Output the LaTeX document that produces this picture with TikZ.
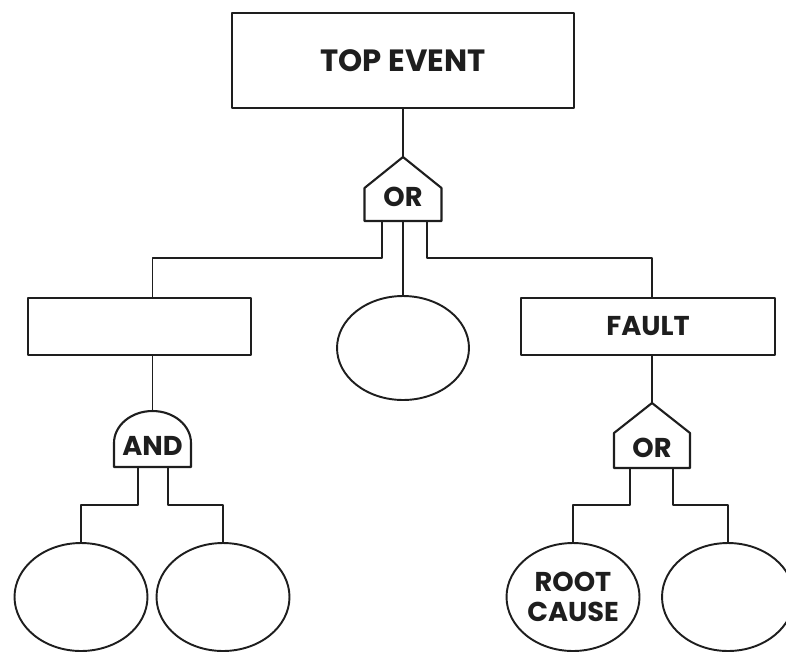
\documentclass[tikz,border=0pt]{standalone}
\usepackage{fontspec}
\setmainfont{Poppins}
\usetikzlibrary{shapes.geometric}

\definecolor{ink}{HTML}{1E1E1E}

\begin{document}
\begin{tikzpicture}[x=0.02cm, y=-0.02cm, line join=round, ink,
  box/.style={draw, line width=1.2pt, inner sep=0pt, font=\bfseries\fontsize{15.5}{17}\selectfont},
  oval/.style={draw, ellipse, line width=1.1pt, inner sep=0pt, align=center, font=\bfseries\fontsize{15.5}{17.5}\selectfont},
  gatetext/.style={inner sep=0pt, font=\bfseries\fontsize{15.5}{17}\selectfont},
  gate/.style={line width=1.2pt},
  wire/.style={line width=1pt}]
  \useasboundingbox (0,0) rectangle (786,652);
  \clip (0,0) rectangle (786,652);
  % top event
  \node[box, minimum width=6.84cm, minimum height=1.9cm, font=\bfseries\fontsize{17.5}{19}\selectfont]
    (top) at (403,60.5) {TOP EVENT};
  % or gate (top)
  \node[gatetext] (or1) at (403,197) {OR};
  \draw[gate] (or1.center) ++(-38.5,24) -- ++(0,-33) -- ++(38.5,-31) coordinate (or1top)
    -- ++(38.5,31) -- ++(0,33) -- cycle;
  \draw[wire] (top.south) -- (or1top);
  % second level
  \node[box, minimum width=4.46cm, minimum height=1.14cm] (left) at (139.5,326.5) {};
  \node[oval, minimum width=2.64cm, minimum height=2.08cm] (mid) at (403,348) {};
  \node[box, minimum width=5.08cm, minimum height=1.14cm] (fault) at (648,326.5) {FAULT};
  % and gate
  \node[gatetext] (and1) at (152.5,446) {AND};
  \draw[gate] (and1.center) ++(-38.5,21) -- ++(0,-24)
    arc[start angle=180, end angle=0, x radius=0.77cm, y radius=0.64cm] -- ++(0,24) -- cycle;
  \path (and1.center) ++(0,-35) coordinate (and1top);
  % or gate (fault)
  \node[gatetext] (or2) at (652,448) {OR};
  \draw[gate] (or2.center) ++(-38,20) -- ++(0,-35) -- ++(38,-30) coordinate (or2top)
    -- ++(38,30) -- ++(0,35) -- cycle;
  % basic events
  \node[oval, minimum width=2.66cm, minimum height=2.16cm] (c1) at (81,597) {};
  \node[oval, minimum width=2.66cm, minimum height=2.16cm] (c2) at (223,597) {};
  \node[oval, minimum width=2.66cm, minimum height=2.16cm] (c3) at (573,597) {ROOT\\CAUSE};
  \node[oval, minimum width=2.64cm, minimum height=2.16cm] (c4) at (728,597) {};
  % wires
  \draw[wire] (or1.center) ++(-21,24) -- ++(0,37) -| (left.north -| and1.center);
  \draw[wire] (or1.center) ++(0,24) -- (mid.north);
  \draw[wire] (or1.center) ++(24,24) -- ++(0,37) -| (fault.north -| or2.center);
  \draw[wire] (left.south -| and1.center) -- (and1top);
  \draw[wire] (fault.south -| or2.center) -- (or2top);
  \draw[wire] (and1.center) ++(-14.5,21) -- ++(0,38) -| (c1.north);
  \draw[wire] (and1.center) ++(15.5,21) -- ++(0,38) -| (c2.north);
  \draw[wire] (or2.center) ++(-22,20) -- ++(0,37) -| (c3.north);
  \draw[wire] (or2.center) ++(21,20) -- ++(0,37) -| (c4.north);
\end{tikzpicture}
\end{document}
